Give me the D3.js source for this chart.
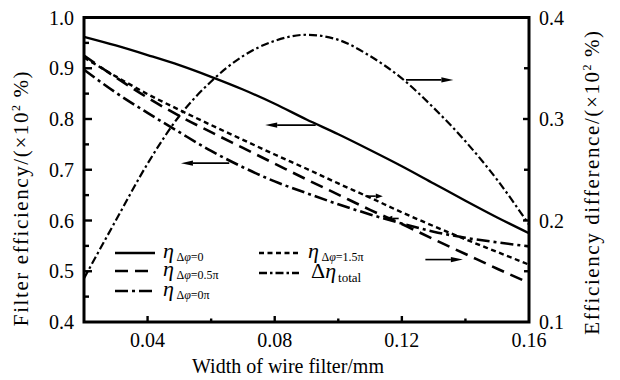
<!DOCTYPE html>
<html><head><meta charset="utf-8">
<script src="https://cdn.jsdelivr.net/npm/d3@7"></script>
<style>body{margin:0;background:#fff}svg{display:block}
svg text{font-family:"Liberation Serif","Times New Roman",Times,serif;}</style>
</head><body><svg id="c" width="620" height="380"></svg>
<script>
// ---- data ----
const widths      = [0.02,0.03,0.04,0.05,0.06,0.07,0.08,0.09,0.10,0.11,0.12,0.13,0.14,0.15,0.16];
const eta0        = [0.962,0.945,0.926,0.906,0.883,0.858,0.830,0.799,0.770,0.739,0.707,0.673,0.639,0.606,0.575];
const eta05pi     = [0.925,0.882,0.842,0.806,0.774,0.743,0.712,0.681,0.651,0.621,0.593,0.563,0.534,0.505,0.477];
const eta0pi      = [0.897,0.852,0.812,0.774,0.737,0.705,0.677,0.654,0.632,0.612,0.594,0.578,0.566,0.557,0.549];
const eta15pi     = [0.921,0.884,0.849,0.818,0.788,0.759,0.730,0.702,0.673,0.645,0.616,0.589,0.563,0.538,0.513];
const deltaTotal  = [0.143,0.200,0.256,0.303,0.337,0.362,0.377,0.383,0.378,0.362,0.340,0.311,0.278,0.240,0.196];

const xTickLabels   = [0.04,0.08,0.12,0.16];
const xMinorTicks   = [0.06,0.10,0.14];
const leftTicks     = [0.4,0.5,0.6,0.7,0.8,0.9,1.0];
const leftMinor     = [0.45,0.55,0.65,0.75,0.85,0.95];
const rightTicks    = [0.1,0.2,0.3,0.4];
const rightMinor    = [0.15,0.25,0.35];

// arrows: [x0, x1, y(left scale)]
const arrowsData = [
  [0.1213,0.1362,0.877],
  [0.0929,0.0770,0.788],
  [0.0657,0.0505,0.713],
  [0.1085,0.1140,0.648],
  [0.1190,0.1148,0.604],
  [0.1274,0.1392,0.523]
];

// ---- layout ----
const svg = d3.select('#c');
const L = 84, R = 529, T = 17.5, B = 322;
const x  = d3.scaleLinear().domain([0.02,0.16]).range([L,R]);
const yL = d3.scaleLinear().domain([0.4,1.0]).range([B,T]);
const yR = d3.scaleLinear().domain([0.1,0.4]).range([B,T]);

// series
const series = [
  {v:eta0,   y:yL, dash:null,          w:2.3},
  {v:eta05pi,y:yL, dash:'13,7',        w:2.6},
  {v:eta0pi, y:yL, dash:'13,4,3,4',    w:2.6},
  {v:eta15pi,y:yL, dash:'5,3.5',       w:2.4},
  {v:deltaTotal,y:yR,dash:'8,3,2.5,3', w:2.2}
];
const g = svg.append('g');
series.forEach(s=>{
  const line = d3.line().x((d,i)=>x(widths[i])).y(d=>s.y(d)).curve(d3.curveMonotoneX);
  g.append('path').attr('d',line(s.v)).attr('fill','none').attr('stroke','#000')
    .attr('stroke-width',s.w).attr('stroke-dasharray',s.dash);
});

// arrows
arrowsData.forEach(a=>{
  const len = Math.abs(x(a[1])-x(a[0]));
  const aw = len>30 ? 12 : 7;
  const dir = Math.sign(x(a[1])-x(a[0]));
  const xe = x(a[1]), ye = yL(a[2]);
  svg.append('line').attr('x1',x(a[0])).attr('x2',xe-dir*aw).attr('y1',ye).attr('y2',ye)
    .attr('stroke','#000').attr('stroke-width',1.6);
  svg.append('path').attr('d',`M${xe},${ye}L${xe-dir*aw},${ye-2.6}L${xe-dir*aw},${ye+2.6}Z`).attr('fill','#000');
});

// ticks (inward)
const tk = svg.append('g').attr('stroke','#000').attr('stroke-width',2.4);
xTickLabels.forEach(v=>{ if(v<0.16) tk.append('line').attr('x1',x(v)).attr('x2',x(v)).attr('y1',B).attr('y2',B-6); });
xMinorTicks.forEach(v=>tk.append('line').attr('x1',x(v)).attr('x2',x(v)).attr('y1',B).attr('y2',B-3.5));
leftTicks.forEach(v=>{ if(v>0.4&&v<1.0) tk.append('line').attr('x1',L).attr('x2',L+8).attr('y1',yL(v)).attr('y2',yL(v)); });
leftMinor.forEach(v=>tk.append('line').attr('x1',L).attr('x2',L+5).attr('y1',yL(v)).attr('y2',yL(v)));
rightTicks.forEach(v=>{ if(v>0.1&&v<0.4) tk.append('line').attr('x1',R).attr('x2',R-6).attr('y1',yR(v)).attr('y2',yR(v)); });
rightMinor.forEach(v=>tk.append('line').attr('x1',R).attr('x2',R-5).attr('y1',yR(v)).attr('y2',yR(v)));

// frame
svg.append('rect').attr('x',L).attr('y',T).attr('width',R-L).attr('height',B-T)
  .attr('fill','none').attr('stroke','#000').attr('stroke-width',3);

// tick labels
const tl = svg.append('g').attr('font-size',20).attr('fill','#000');
xTickLabels.forEach(v=>tl.append('text').attr('x',x(v)).attr('y',347).attr('text-anchor','middle').text(d3.format('.2f')(v)));
leftTicks.forEach(v=>tl.append('text').attr('x',74).attr('y',yL(v)+7).attr('text-anchor','end').text(d3.format('.1f')(v)));
rightTicks.forEach(v=>tl.append('text').attr('x',539).attr('y',yR(v)+7).attr('text-anchor','start').text(d3.format('.1f')(v)));

// axis titles
tl.append('text').attr('x',288).attr('y',373).attr('text-anchor','middle').text('Width of wire filter/mm');
function unitTitle(tx,ty,label){
  const t = tl.append('text').attr('transform',`translate(${tx},${ty}) rotate(-90)`)
    .attr('text-anchor','middle').attr('font-size',21).attr('letter-spacing',1.6);
  t.append('tspan').text(label+'/(×10');
  t.append('tspan').attr('font-size',12).attr('dy',-8).text('2');
  t.append('tspan').attr('dy',8).text('\u2009%)');
}
unitTitle(28,198,'Filter efficiency');
unitTitle(599,182,'Efficiency difference');

// legend
const legendItems = [
  {x:115,y:253,dash:null,w:2.4,sub:['Δ','φ','=0'],tx:163},
  {x:115,y:271,dash:'13,7',w:2.6,sub:['Δ','φ','=0.5π'],tx:163},
  {x:115,y:291,dash:'13,4,3,4',w:2.6,sub:['Δ','φ','=0π'],tx:163},
  {x:259,y:253,dash:'5,3.5',w:2.4,sub:['Δ','φ','=1.5π'],tx:308},
  {x:259,y:273,dash:'8,3,2.5,3',w:2.4,delta:true,tx:311}
];
const lg = svg.append('g');
legendItems.forEach(it=>{
  lg.append('line').attr('x1',it.x).attr('x2',it.x+40).attr('y1',it.y).attr('y2',it.y)
    .attr('stroke','#000').attr('stroke-width',it.w).attr('stroke-dasharray',it.dash);
  const t = lg.append('text').attr('x',it.tx).attr('y',it.y+5).attr('font-size',22);
  if(it.delta){
    t.append('tspan').text('Δ');
    t.append('tspan').attr('font-style','italic').text('η');
    t.append('tspan').attr('font-size',13).attr('dy',4).attr('dx',2).text('total');
  } else {
    t.append('tspan').attr('font-style','italic').text('η');
    t.append('tspan').attr('font-size',12).attr('dy',3).attr('dx',2.5).text(it.sub[0]);
    t.append('tspan').attr('font-size',12).attr('font-style','italic').text(it.sub[1]);
    t.append('tspan').attr('font-size',12).text(it.sub[2]);
  }
});
</script></body></html>
